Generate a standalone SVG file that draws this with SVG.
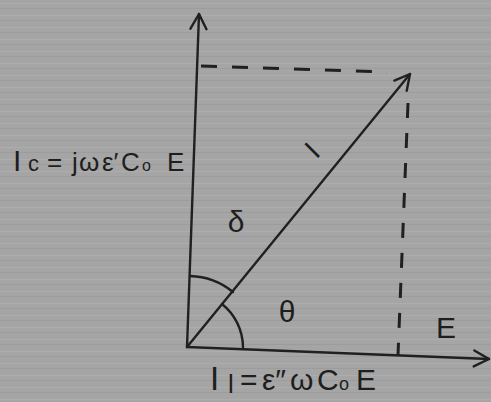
<svg xmlns="http://www.w3.org/2000/svg" width="491" height="402" viewBox="0 0 491 402">
<style>
.ln{stroke:#202020;stroke-width:2.4;fill:none;stroke-linecap:round;stroke-linejoin:round}
.ds{stroke:#202020;stroke-width:3;fill:none}
.tx{font-family:"Liberation Sans",Arial,sans-serif;fill:#1e1e1e}
</style>
<defs>
<pattern id="bgp" width="491" height="12" patternUnits="userSpaceOnUse">
<rect width="491" height="12" fill="#a5a5a5"/>
<rect y="3" width="491" height="1" fill="#adadad"/>
<rect y="8" width="491" height="1" fill="#9c9c9c"/>
</pattern>
<marker id="ah" markerUnits="userSpaceOnUse" markerWidth="24" markerHeight="24" viewBox="-18 -12 24 24" refX="0" refY="0" orient="auto">
<path d="M-15,-8 L0,0 L-15,8" fill="none" stroke="#202020" stroke-width="2.4" stroke-linecap="round" stroke-linejoin="round"/>
</marker>
</defs>
<rect width="491" height="402" fill="url(#bgp)"/>
<g id="connectors">
<line id="axis-v" class="ln" x1="187" y1="347" x2="199" y2="14" marker-end="url(#ah)"/>
<line id="axis-h" class="ln" x1="187" y1="347" x2="489" y2="359" marker-end="url(#ah)"/>
<line id="phasor-I" class="ln" x1="187" y1="347" x2="410" y2="74" marker-end="url(#ah)"/>
<line id="dash-h" class="ds" x1="201" y1="66" x2="387" y2="72" stroke-dasharray="16 15"/>
<line id="dash-v" class="ds" x1="408" y1="103" x2="398" y2="355" stroke-dasharray="15 15"/>
<path id="arc-theta" class="ln" d="M243,347 A56,56 0 0 0 222,304"/>
<path id="arc-delta" class="ln" d="M190,276 A71,71 0 0 1 233,292"/>
</g>
<g id="label-Ic">
<text class="tx" y="171"><tspan x="13" font-size="30">I</tspan><tspan x="28" font-size="22">c</tspan><tspan x="47" font-size="26">=</tspan><tspan x="72" font-size="26">j</tspan><tspan x="79" font-size="26">ω</tspan><tspan x="102" font-size="26">ε′</tspan><tspan x="121" font-size="26">C</tspan><tspan x="142" font-size="16">o</tspan><tspan x="167" font-size="26">E</tspan></text>
</g>
<g id="label-Il">
<text class="tx" y="390"><tspan x="210" font-size="33">I</tspan><tspan x="228" font-size="26" dy="3">l</tspan><tspan x="240" font-size="30" dy="-3">=</tspan><tspan x="262" font-size="30">ε″</tspan><tspan x="290" font-size="30">ω</tspan><tspan x="317" font-size="30">C</tspan><tspan x="339" font-size="18">o</tspan><tspan x="356" font-size="30">E</tspan></text>
</g>
<g id="label-I">
<text class="tx" font-size="28" text-anchor="middle" transform="translate(312,150) rotate(-45)" y="10">I</text>
</g>
<g id="label-delta">
<text class="tx" x="236" y="232" font-size="30" text-anchor="middle">δ</text>
</g>
<g id="label-theta">
<text class="tx" x="287" y="322" font-size="30" text-anchor="middle">θ</text>
</g>
<g id="label-E">
<text class="tx" x="436" y="338" font-size="30">E</text>
</g>
</svg>
